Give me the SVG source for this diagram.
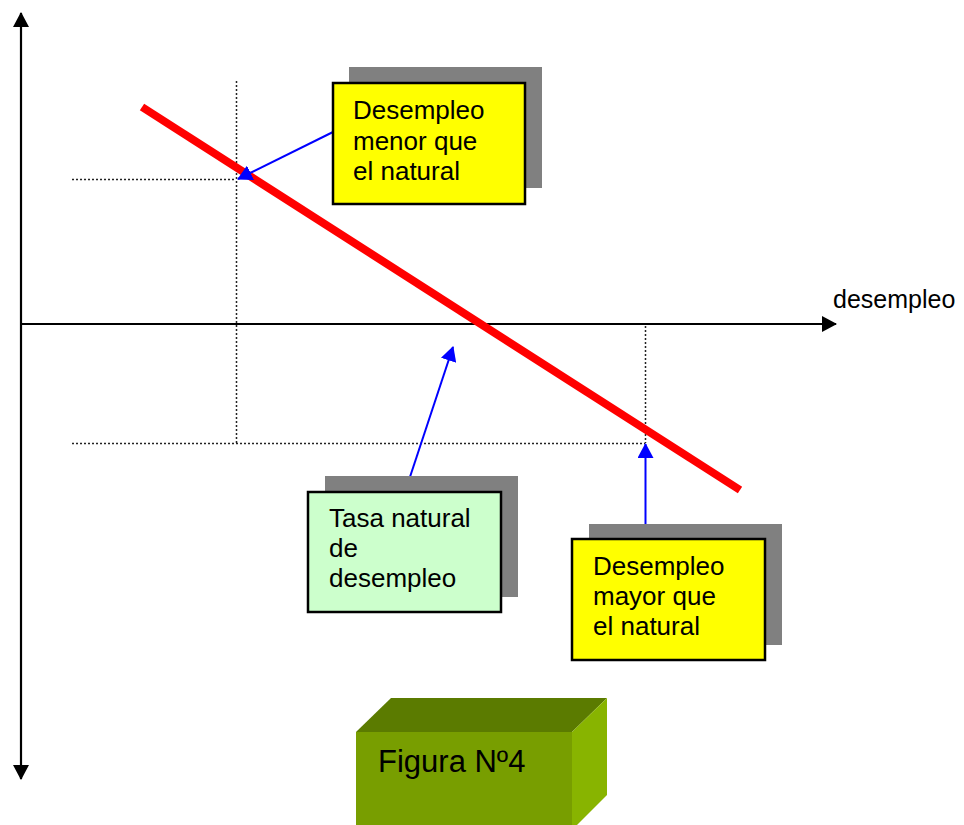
<svg xmlns="http://www.w3.org/2000/svg" width="964" height="825" viewBox="0 0 964 825">
<style>
text{font-family:"Liberation Sans",Arial,sans-serif;fill:#000}
.lbl{font-size:26px}
.shadow{fill:#808080}
.box{stroke:#000;stroke-width:2.5}
.dot{stroke:#222;stroke-width:1.5;stroke-dasharray:2 2;fill:none}
.axis{stroke:#000;stroke-width:2.2;fill:none}
.blue{stroke:#0000FF;stroke-width:2;fill:none}
</style>
<defs>
<marker id="ak" markerWidth="16" markerHeight="16" refX="14" refY="8" orient="auto" markerUnits="userSpaceOnUse" viewBox="0 0 16 16">
<path d="M0,0 L15,8 L0,16 Z" fill="#000"/>
</marker>
<marker id="ab" markerWidth="16" markerHeight="16" refX="14" refY="8" orient="auto" markerUnits="userSpaceOnUse" viewBox="0 0 16 16">
<path d="M0,0 L15,8 L0,16 Z" fill="#0000FF"/>
</marker>
</defs>

<g id="axes">
<line class="axis" x1="21" y1="400" x2="21" y2="13" marker-end="url(#ak)"/>
<line class="axis" x1="21" y1="400" x2="21" y2="779" marker-end="url(#ak)"/>
<line class="axis" x1="20" y1="324" x2="836" y2="324" marker-end="url(#ak)"/>
<text id="xlabel" x="833" y="308" style="font-size:25px">desempleo</text>
</g>

<g id="guides">
<line class="dot" x1="236.5" y1="81" x2="236.5" y2="443"/>
<line class="dot" x1="72" y1="179.5" x2="236" y2="179.5"/>
<line class="dot" x1="72" y1="443.5" x2="645" y2="443.5"/>
<line class="dot" x1="645.5" y1="326" x2="645.5" y2="443"/>
</g>

<g id="curve">
<line x1="142" y1="107" x2="740" y2="490" stroke="#FF0000" stroke-width="8"/>
</g>

<g id="connectors">
<line class="blue" x1="333" y1="132" x2="238" y2="179" marker-end="url(#ab)"/>
<line class="blue" x1="405" y1="492" x2="453" y2="347" marker-end="url(#ab)"/>
<line class="blue" x1="645.5" y1="539" x2="645.5" y2="444" marker-end="url(#ab)"/>
</g>

<g id="box-menor">
<rect class="shadow" x="349" y="67" width="193" height="121"/>
<rect class="box" x="333" y="83" width="192" height="121" fill="#FFFF00"/>
<text class="lbl" x="353" y="119">Desempleo</text>
<text class="lbl" x="353" y="150">menor que</text>
<text class="lbl" x="353" y="180">el natural</text>
</g>

<g id="box-tasa">
<rect class="shadow" x="325" y="476" width="193" height="121"/>
<rect class="box" x="308" y="492" width="193" height="120" fill="#CCFFCC"/>
<text class="lbl" x="329" y="527">Tasa natural</text>
<text class="lbl" x="329" y="557">de</text>
<text class="lbl" x="329" y="587">desempleo</text>
</g>

<g id="box-mayor">
<rect class="shadow" x="589" y="524" width="193" height="121"/>
<rect class="box" x="572" y="539" width="193" height="121" fill="#FFFF00"/>
<text class="lbl" x="593" y="575">Desempleo</text>
<text class="lbl" x="593" y="605">mayor que</text>
<text class="lbl" x="593" y="635">el natural</text>
</g>

<g id="figura">
<polygon points="356,732 391,698 607,698 572,732" fill="#5B7B00"/>
<polygon points="572,732 607,698 607,795 572,830" fill="#88B400"/>
<rect x="356" y="732" width="216" height="100" fill="#789E00"/>
<text x="378" y="772" style="font-size:31px">Figura Nº4</text>
</g>
</svg>
